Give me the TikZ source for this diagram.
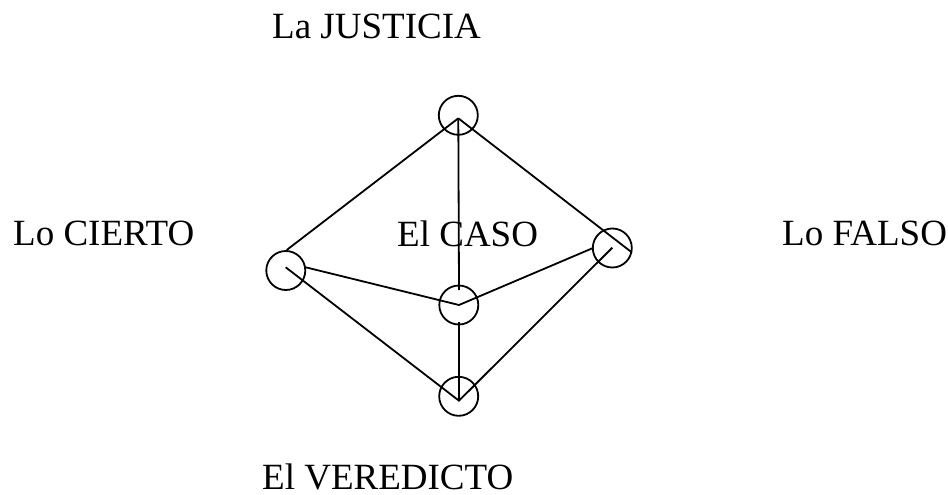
\documentclass[tikz,border=0pt]{standalone}
\usepackage{fontspec}
\setmainfont{Liberation Serif}
\begin{document}
\begin{tikzpicture}[x=1pt,y=-1pt,
  vtx/.style={circle,draw,line width=1.8pt,minimum size=39pt,inner sep=0pt},
  edge/.style={line width=1.8pt},
  lbl/.style={anchor=base west,inner sep=0pt,font=\fontsize{37}{44}\selectfont}]
\useasboundingbox (0,0) rectangle (948,495);
% vertices
\node[vtx] (T) at (458.3,115.3) {};
\node[vtx] (L) at (285.8,270.5) {};
\node[vtx] (R) at (612.3,248) {};
\node[vtx] (M) at (458.8,305) {};
\node[vtx] (B) at (458.7,396.3) {};
% end points of the connectors
\coordinate (Tp) at (458.3,118.3);
\coordinate (Ltop) at (286.7,250);
\coordinate (Least) at (305.7,267.3);
\coordinate (Lc) at (285.7,267.3);
\coordinate (Reast) at (631.7,252.3);
\coordinate (Rwest) at (592.3,248.3);
\coordinate (Rc) at (612.3,247.7);
\coordinate (Mc) at (459,305);
\coordinate (Mtop) at (459,290);
\coordinate (Mbot) at (459,321.7);
\coordinate (Bp) at (459,400.7);
% connectors
\draw[edge] (Tp) -- (Ltop);
\draw[edge] (Tp) -- (Mtop);
\draw[edge] (Tp) -- (Reast);
\draw[edge] (Least) -- (Mc) -- (Rwest);
\draw[edge] (Lc) -- (Bp) -- (Rc);
\draw[edge] (Mbot) -- (Bp);
% labels
\node[lbl] (jus) at (272,39) {La JUSTICIA};
\node[lbl] (cie) at (13,245) {Lo CIERTO};
\node[lbl] (cas) at (397,246) {El CASO};
\node[lbl] (fal) at (782,245) {Lo FALSO};
\node[lbl,text depth=0pt] (ver) at (262,489) {El VEREDICTO};
\end{tikzpicture}
\end{document}
